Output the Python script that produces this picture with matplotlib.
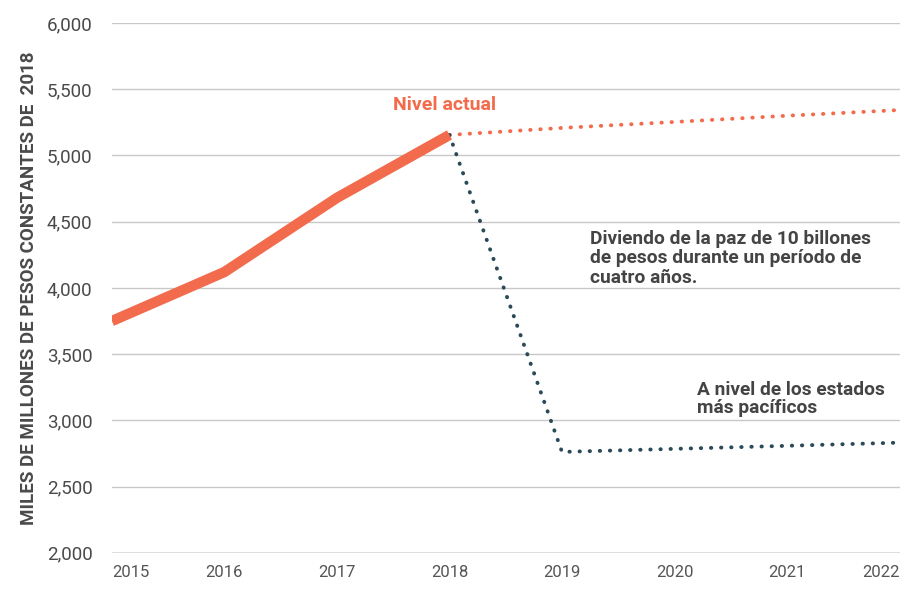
import numpy as np
import matplotlib.pyplot as plt

years_actual = [2015, 2016, 2017, 2018]
gasto_actual = [3750, 4120, 4680, 5155]

years_proj = [2018, 2019, 2020, 2021, 2022]
nivel_actual = [5155, 5208, 5253, 5300, 5343]
pacificos = [5155, 2762, 2785, 2808, 2832]

yticks = [2000, 2500, 3000, 3500, 4000, 4500, 5000, 5500, 6000]

orange = "#F26B4C"
dark = "#2B4A58"
txt = "#444444"

plt.rcParams['font.family'] = ['Roboto', 'DejaVu Sans']

fig = plt.figure(figsize=(9.17, 5.90), dpi=100)
ax = fig.add_axes([0.122, 0.063, 0.859, 0.898])

ax.plot(years_proj, nivel_actual, color=orange, lw=2.8, ls=(0, (0.1, 2.5)),
        dash_capstyle='round', zorder=3)
ax.plot(years_proj, pacificos, color=dark, lw=2.8, ls=(0, (0.1, 2.5)),
        dash_capstyle='round', zorder=3)
ax.plot(years_actual, gasto_actual, color=orange, lw=7.5, solid_capstyle='butt', zorder=4)

ax.set_xlim(2015, 2022)
ax.set_ylim(2000, 6000)
ax.set_yticks(yticks)
ax.set_yticklabels([f"{v:,}" for v in yticks])
ax.set_xticks(range(2015, 2023))

for v in yticks[1:]:
    ax.axhline(v, color="#C8C8C8", lw=1, zorder=1)
ax.axhline(2000, color="#DADADA", lw=2, zorder=1)

for s in ax.spines.values():
    s.set_visible(False)
ax.tick_params(axis='y', length=0, labelsize=13.5, colors="#4A4A4A", pad=14)
ax.tick_params(axis='x', length=0, labelsize=12, colors="#555555", pad=9)
xl = ax.get_xticklabels()
xl[0].set_horizontalalignment('left')
xl[-1].set_horizontalalignment('right')

ax.set_ylabel("MILES DE MILLONES DE PESOS CONSTANTES DE  2018",
              fontsize=13.5, fontweight='bold', color="#4A4A4A", labelpad=6)

ax.text(2017.5, 5380, "Nivel actual", color=orange, fontsize=14,
        fontweight='bold', ha='left', va='center')
ax.text(2019.25, 4223, "Diviendo de la paz de 10 billones\nde pesos durante un período de\ncuatro años.",
        color=txt, fontsize=13.8, fontweight='bold', ha='left', va='center',
        linespacing=1.12)
ax.text(2020.2, 3158, "A nivel de los estados\nmás pacíficos",
        color=txt, fontsize=13.8, fontweight='bold', ha='left', va='center',
        linespacing=1.0)

fig.savefig("out.png", dpi=100)
